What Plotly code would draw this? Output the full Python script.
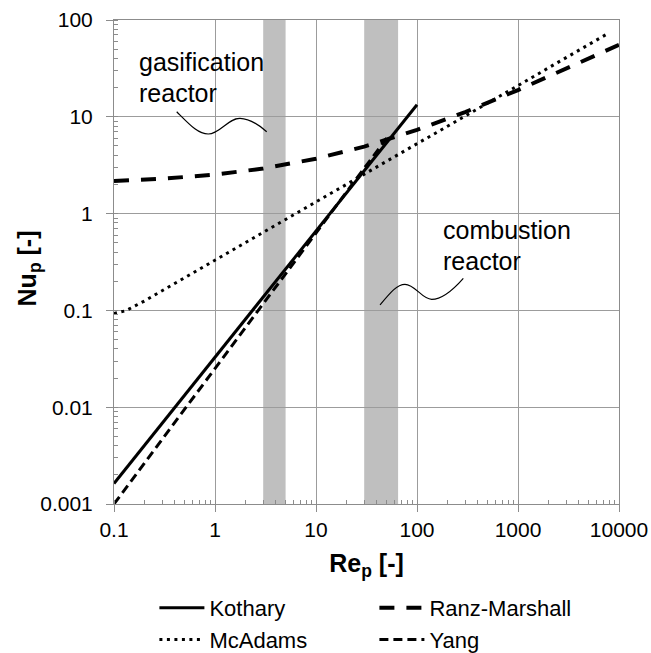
import plotly.graph_objects as go

# Particle Reynolds number vs. particle Nusselt number for four correlations
re_kothary = [0.1, 1, 10, 100]
nu_kothary = [0.00163, 0.0327, 0.659, 13.3]

re_ranz = [0.1, 0.3, 1, 3, 10, 30, 100, 300, 1000, 3000, 10000]
nu_ranz = [2.17, 2.29, 2.53, 2.92, 3.69, 4.92, 7.33, 11.2, 18.9, 31.2, 55.3]

re_mcadams = [0.1, 0.13, 0.2, 0.3, 0.5, 1, 2, 5, 10, 20, 50, 100, 200, 500, 1000, 2000, 5000, 7500]
nu_mcadams = [0.093, 0.099, 0.125, 0.16, 0.215, 0.327, 0.50, 0.87, 1.32, 2.0, 3.5, 5.2, 7.9, 13.8, 21.0, 32.0, 56.0, 71.0]

re_yang = [0.1, 0.3, 1, 3, 10, 30, 50]
nu_yang = [0.001, 0.0047, 0.025, 0.117, 0.63, 2.9, 6.0]

# Operating Re ranges of the two reactors
gasification_range = [3, 5]
combustion_range = [30, 65]

x_tickvals = [0.1, 1, 10, 100, 1000, 10000]
x_ticktext = ["0.1", "1", "10", "100", "1000", "10000"]
y_tickvals = [0.001, 0.01, 0.1, 1, 10, 100]
y_ticktext = ["0.001", "0.01", "0.1", "1", "10", "100"]

FONT = "Liberation Sans, Arial, sans-serif"
GRID = "#9c9c9c"
AXIS = "#8c8c8c"

fig = go.Figure()

fig.add_trace(go.Scatter(x=re_kothary, y=nu_kothary, name="Kothary", mode="lines",
                         line=dict(color="black", width=3)))
fig.add_trace(go.Scatter(x=re_ranz, y=nu_ranz, name="Ranz-Marshall", mode="lines",
                         line=dict(color="black", width=4, dash="15px,12px")))
fig.add_trace(go.Scatter(x=re_mcadams, y=nu_mcadams, name="McAdams", mode="lines",
                         line=dict(color="black", width=3, dash="3px,4.5px")))
fig.add_trace(go.Scatter(x=re_yang, y=nu_yang, name="Yang", mode="lines",
                         line=dict(color="black", width=3, dash="9px,5px")))

for lo, hi in (gasification_range, combustion_range):
    fig.add_vrect(x0=lo, x1=hi, fillcolor="#bfbfbf", opacity=1, line_width=0, layer="below")

# Wavy callout strokes (paper coordinates)
fig.add_shape(type="path", xref="paper", yref="paper",
              path="M0.1242,0.8105 C0.1505,0.7831 0.1663,0.7645 0.1867,0.7645 "
                   "C0.2099,0.7645 0.2257,0.7975 0.2495,0.7969 "
                   "C0.2693,0.7965 0.2851,0.7851 0.3024,0.7692",
              line=dict(color="black", width=1.2))
fig.add_shape(type="path", xref="paper", yref="paper",
              path="M0.5267,0.4112 C0.5465,0.4360 0.5604,0.4539 0.5762,0.4539 "
                   "C0.5960,0.4539 0.6099,0.4229 0.6291,0.4229 "
                   "C0.6495,0.4229 0.6713,0.4421 0.6917,0.4663",
              line=dict(color="black", width=1.2))

label_font = dict(family=FONT, size=25, color="black")
for text, x, y in [("gasification", 0.0455, 0.9132), ("reactor", 0.0455, 0.849),
                   ("combustion", 0.6475, 0.5661), ("reactor", 0.6475, 0.5027)]:
    fig.add_annotation(text=text, xref="paper", yref="paper", x=x, y=y,
                       xanchor="left", yanchor="middle", showarrow=False, font=label_font)

# Vertical axis title
fig.add_annotation(text="<b>Nu<sub>p</sub> [-]</b>", xref="paper", yref="paper",
                   x=-0.168, y=0.487, xanchor="center", yanchor="middle", textangle=-90,
                   showarrow=False, font=dict(family=FONT, size=25, color="black"))

axis_common = dict(
    type="log", showgrid=True, gridcolor=GRID, gridwidth=1,
    showline=True, linecolor=AXIS, linewidth=1, mirror=True,
    ticks="outside", ticklen=7, tickcolor=AXIS, tickwidth=1,
    tickfont=dict(family=FONT, size=21, color="black"),
    minor=dict(ticks="inside", ticklen=4, tickcolor=AXIS, dtick="D1", showgrid=False),
    zeroline=False, automargin=False,
)

fig.update_xaxes(**axis_common, range=[-1, 4], tickvals=x_tickvals, ticktext=x_ticktext,
                 title=dict(text="<b>Re<sub>p</sub> [-]</b>", standoff=14,
                            font=dict(family=FONT, size=25, color="black")))
fig.update_yaxes(**axis_common, range=[-3, 2], tickvals=y_tickvals, ticktext=y_ticktext,
                 ticklabelstandoff=9)

fig.update_layout(
    width=651, height=653,
    margin=dict(l=114, r=32, t=20, b=149, autoexpand=False),
    paper_bgcolor="white", plot_bgcolor="white",
    font=dict(family=FONT, color="black"),
    legend=dict(orientation="h", x=0.08, xanchor="left",
                yref="container", y=0.101, yanchor="top",
                entrywidth=160, entrywidthmode="pixels", itemwidth=45,
                font=dict(family=FONT, size=22, color="black"),
                bgcolor="rgba(0,0,0,0)", tracegroupgap=0),
)

fig.write_html("out.html")
